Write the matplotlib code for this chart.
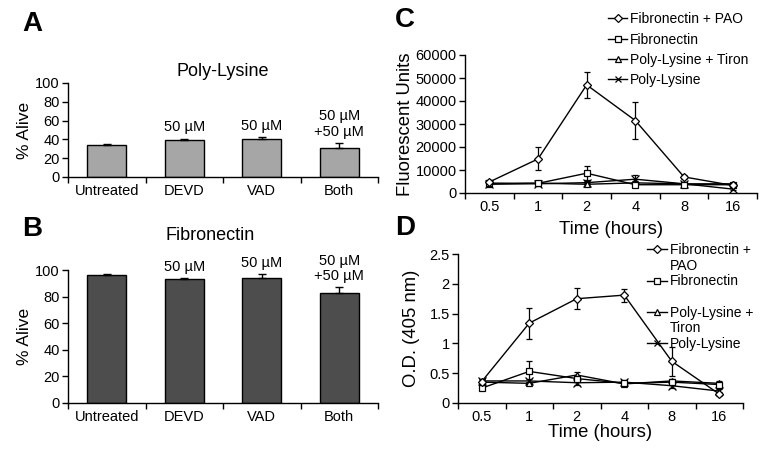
import numpy as np
import matplotlib
matplotlib.use("Agg")
import matplotlib.pyplot as plt
from matplotlib.lines import Line2D

plt.rcParams['font.family'] = ['Liberation Sans', 'DejaVu Sans']

# --- bar panels (A, B) ---
treatments = ["Untreated", "DEVD", "VAD", "Both"]
doses = ["", "50 µM", "50 µM", "50 µM\n+50 µM"]
alive_polylysine = [34, 39, 40, 30.5]
alive_polylysine_err = [1, 1.8, 2.5, 6]
alive_fibronectin = [96, 93, 93.7, 82.7]
alive_fibronectin_err = [1, 1.2, 3, 4.5]

# --- time course panels (C, D) ---
times = ["0.5", "1", "2", "4", "8", "16"]
series_c = ["Fibronectin + PAO", "Fibronectin", "Poly-Lysine + Tiron", "Poly-Lysine"]
fluor_pao = [4800, 14800, 47000, 31500, 7000, 3300]
fluor_pao_err = [800, 5000, 5500, 8000, 1000, 800]
fluor_fn = [4300, 4200, 8600, 3600, 3600, 3600]
fluor_fn_err = [500, 500, 3000, 500, 500, 500]
fluor_tiron = [3800, 4300, 3800, 4400, 4000, 4000]
fluor_tiron_err = [500, 500, 500, 1000, 500, 500]
fluor_pl = [4000, 4000, 4500, 6000, 4000, 1700]
fluor_pl_err = [500, 500, 600, 1800, 600, 500]

od_pao = [0.36, 1.34, 1.75, 1.81, 0.70, 0.15]
od_pao_err = [0.05, 0.26, 0.18, 0.11, 0.24, 0.03]
od_fn = [0.25, 0.53, 0.41, 0.33, 0.35, 0.31]
od_fn_err = [0.03, 0.18, 0.05, 0.04, 0.04, 0.05]
od_tiron = [0.35, 0.33, 0.47, 0.32, 0.37, 0.33]
od_tiron_err = [0.04, 0.03, 0.05, 0.03, 0.04, 0.04]
od_pl = [0.37, 0.37, 0.34, 0.35, 0.29, 0.20]
od_pl_err = [0.04, 0.03, 0.03, 0.03, 0.04, 0.03]

markers = ["D", "s", "^", "x"]
msizes = [4.5, 5, 5, 5.5]

W, H = 766, 453
fig = plt.figure(figsize=(W / 100, H / 100), dpi=100)


def px_axes(l, t, r, b):
    return fig.add_axes([l / W, 1 - b / H, (r - l) / W, (b - t) / H])


def excel_style(ax, n):
    for s in ["top", "right"]:
        ax.spines[s].set_visible(False)
    for s in ["left", "bottom"]:
        ax.spines[s].set_linewidth(1)
    ax.set_xlim(-0.5, n - 0.5)
    ax.set_xticks(range(n))
    ax.set_xticks(np.arange(n + 1) - 0.5, minor=True)
    ax.tick_params(axis="x", which="major", length=0, pad=5)
    ax.tick_params(axis="x", which="minor", length=4, width=1, direction="out")
    ax.tick_params(axis="y", length=4, width=1, direction="out", pad=2)


def bar_panel(ax, vals, errs, color, title, title_x, title_y):
    x = np.arange(len(treatments))
    ax.bar(x, vals, width=0.5, color=color, edgecolor="black", linewidth=1, zorder=2)
    ax.errorbar(x, vals, yerr=[np.zeros(len(errs)), errs], fmt="none",
                ecolor="black", elinewidth=1, capsize=3, capthick=1, zorder=3)
    excel_style(ax, len(treatments))
    ax.set_xticklabels(treatments, fontsize=10.5)
    ax.set_ylim(0, 100)
    ax.set_yticks(range(0, 101, 20))
    ax.tick_params(axis="y", labelsize=10.5)
    ax.set_ylabel("% Alive", fontsize=12.5, labelpad=2)
    ax.text(title_x, title_y, title, transform=ax.transAxes, ha="center",
            va="center", fontsize=13)
    for i, d in enumerate(doses):
        if d:
            ax.annotate(d, (i, vals[i] + errs[i]), xytext=(0, 3),
                        textcoords="offset points", ha="center", va="bottom",
                        fontsize=10.5, linespacing=1.1)


axA = px_axes(68, 83, 378, 177)
bar_panel(axA, alive_polylysine, alive_polylysine_err, "#a6a6a6", "Poly-Lysine", 0.5, 1.12)
axB = px_axes(68, 270, 378, 403)
bar_panel(axB, alive_fibronectin, alive_fibronectin_err, "#4d4d4d", "Fibronectin", 0.46, 1.26)


def line_panel(ax, ys, es, xpad):
    x = np.arange(len(times))
    for k, (y, e) in enumerate(zip(ys, es)):
        ax.errorbar(x, y, yerr=e, color="black", lw=1, marker=markers[k],
                    ms=msizes[k], mfc="white", mec="black", mew=0.9,
                    ecolor="black", elinewidth=0.9, capsize=2.5, capthick=0.9,
                    zorder=3 + (3 - k))
    excel_style(ax, len(times))
    ax.set_xticklabels(times, fontsize=10.5)
    ax.tick_params(axis="y", labelsize=10.5)
    ax.set_xlabel("Time (hours)", fontsize=13.3, labelpad=xpad)


axC = px_axes(465, 55, 757, 193)
line_panel(axC, [fluor_pao, fluor_fn, fluor_tiron, fluor_pl],
           [fluor_pao_err, fluor_fn_err, fluor_tiron_err, fluor_pl_err], 5)
axC.set_ylim(0, 60000)
axC.set_yticks(range(0, 60001, 10000))
axC.set_ylabel("Fluorescent Units", fontsize=13.3, labelpad=1)

handles = [Line2D([], [], color="black", lw=1, marker=markers[k], ms=msizes[k],
                  mfc="white", mec="black", mew=0.9) for k in range(4)]
axC.legend(handles, series_c, loc="upper left", bbox_to_anchor=(0.47, 1.35),
           frameon=False, fontsize=10, handlelength=1.4, handletextpad=0.2,
           labelspacing=0.45, borderaxespad=0, markerscale=0.9)

axD = px_axes(458, 254, 743, 403)
line_panel(axD, [od_pao, od_fn, od_tiron, od_pl],
           [od_pao_err, od_fn_err, od_tiron_err, od_pl_err], 0)
axD.set_ylim(0, 2.5)
axD.set_yticks([0, 0.5, 1, 1.5, 2, 2.5])
axD.set_yticklabels(["0", "0.5", "1", "1.5", "2", "2.5"])
axD.set_ylabel("O.D. (405 nm)", fontsize=13.3, labelpad=7)

blank = Line2D([], [], alpha=0)
labels_d = ["Fibronectin +", "PAO", "Fibronectin", "", "Poly-Lysine +", "Tiron", "Poly-Lysine"]
handles_d = [handles[0], blank, handles[1], blank, handles[2], blank, handles[3]]
axD.legend(handles_d, labels_d, loc="upper left", bbox_to_anchor=(0.645, 1.11),
           frameon=False, fontsize=10, handlelength=1.4, handletextpad=0.2,
           labelspacing=0.12, borderaxespad=0, markerscale=0.9)

# panel letters
for letter, (x, y) in zip("ABCD", [(32, 24), (32, 229), (405, 20), (405, 228)]):
    fig.text(x / W, 1 - y / H, letter, fontsize=20, fontweight="bold",
             ha="center", va="center")

fig.savefig("out.png", dpi=100)
